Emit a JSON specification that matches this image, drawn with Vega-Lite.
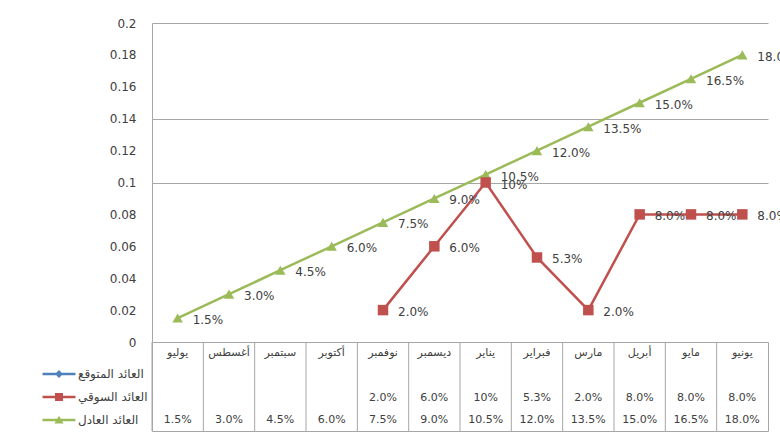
{
  "$schema": "https://vega.github.io/schema/vega-lite/v6.json",
  "padding": {"left": 51, "top": 17, "right": 0, "bottom": 0},
  "spacing": 0,
  "bounds": "flush",
  "resolve": {"scale": {"color": "independent", "shape": "independent"}, "legend": {"color": "independent", "shape": "independent"}},
  "datasets": {
    "months": [
      {"month": "يوليو"}, {"month": "أغسطس"}, {"month": "سبتمبر"}, {"month": "أكتوبر"},
      {"month": "نوفمبر"}, {"month": "ديسمبر"}, {"month": "يناير"}, {"month": "فبراير"},
      {"month": "مارس"}, {"month": "أبريل"}, {"month": "مايو"}, {"month": "يونيو"}
    ],
    "series": [
      {"month": "يوليو", "series": "العائد العادل", "value": 0.015, "label": "1.5%"},
      {"month": "أغسطس", "series": "العائد العادل", "value": 0.03, "label": "3.0%"},
      {"month": "سبتمبر", "series": "العائد العادل", "value": 0.045, "label": "4.5%"},
      {"month": "أكتوبر", "series": "العائد العادل", "value": 0.06, "label": "6.0%"},
      {"month": "نوفمبر", "series": "العائد العادل", "value": 0.075, "label": "7.5%"},
      {"month": "ديسمبر", "series": "العائد العادل", "value": 0.09, "label": "9.0%"},
      {"month": "يناير", "series": "العائد العادل", "value": 0.105, "label": "10.5%"},
      {"month": "فبراير", "series": "العائد العادل", "value": 0.12, "label": "12.0%"},
      {"month": "مارس", "series": "العائد العادل", "value": 0.135, "label": "13.5%"},
      {"month": "أبريل", "series": "العائد العادل", "value": 0.15, "label": "15.0%"},
      {"month": "مايو", "series": "العائد العادل", "value": 0.165, "label": "16.5%"},
      {"month": "يونيو", "series": "العائد العادل", "value": 0.18, "label": "18.0%"},
      {"month": "نوفمبر", "series": "العائد السوقي", "value": 0.02, "label": "2.0%"},
      {"month": "ديسمبر", "series": "العائد السوقي", "value": 0.06, "label": "6.0%"},
      {"month": "يناير", "series": "العائد السوقي", "value": 0.1, "label": "10%"},
      {"month": "فبراير", "series": "العائد السوقي", "value": 0.053, "label": "5.3%"},
      {"month": "مارس", "series": "العائد السوقي", "value": 0.02, "label": "2.0%"},
      {"month": "أبريل", "series": "العائد السوقي", "value": 0.08, "label": "8.0%"},
      {"month": "مايو", "series": "العائد السوقي", "value": 0.08, "label": "8.0%"},
      {"month": "يونيو", "series": "العائد السوقي", "value": 0.08, "label": "8.0%"}
    ]
  },
  "vconcat": [
    {
      "width": 616,
      "height": 319,
      "view": {"stroke": null},
      "data": {"name": "series"},
      "encoding": {
        "x": {
          "field": "month", "type": "nominal",
          "scale": {"type": "point", "padding": 0.5, "domain": ["يوليو", "أغسطس", "سبتمبر", "أكتوبر", "نوفمبر", "ديسمبر", "يناير", "فبراير", "مارس", "أبريل", "مايو", "يونيو"]},
          "axis": null
        },
        "y": {
          "field": "value", "type": "quantitative",
          "scale": {"domain": [0, 0.2], "nice": false},
          "axis": {
            "title": null, "ticks": false, "tickCount": 10, "format": ".2~f",
            "labelPadding": 16, "labelFontSize": 12, "labelColor": "#404040", "labelFont": "DejaVu Sans",
            "domain": true, "domainColor": "#a6a6a6",
            "grid": true,
            "gridColor": {"condition": {"test": "abs(datum.value-0.1)<1e-6 || abs(datum.value-0.14)<1e-6 || abs(datum.value-0.2)<1e-6", "value": "#a6a6a6"}, "value": "transparent"}
          }
        }
      },
      "layer": [
        {
          "mark": {"type": "line", "strokeWidth": 2.5},
          "encoding": {
            "order": {"value": null},
            "color": {"field": "series", "type": "nominal", "legend": null,
              "scale": {"domain": ["العائد المتوقع", "العائد السوقي", "العائد العادل"], "range": ["#4f81bd", "#c0504d", "#9bbb59"]}}
          }
        },
        {
          "mark": {"type": "point", "filled": true, "opacity": 1, "size": 110},
          "encoding": {
            "color": {"field": "series", "type": "nominal", "legend": null,
              "scale": {"domain": ["العائد المتوقع", "العائد السوقي", "العائد العادل"], "range": ["#4f81bd", "#c0504d", "#9bbb59"]}},
            "shape": {"field": "series", "type": "nominal", "legend": null,
              "scale": {"domain": ["العائد المتوقع", "العائد السوقي", "العائد العادل"], "range": ["diamond", "square", "triangle-up"]}}
          }
        },
        {
          "mark": {"type": "text", "align": "left", "baseline": "middle", "dx": 15, "dy": 2, "fontSize": 12, "font": "DejaVu Sans", "color": "#404040"},
          "encoding": {"text": {"field": "label"}}
        }
      ]
    },
    {
      "width": 616,
      "height": 89,
      "view": {"stroke": "#a6a6a6"},
      "layer": [
        {
          "data": {"name": "months"},
          "mark": {"type": "rule", "color": "#a6a6a6", "strokeWidth": 1},
          "encoding": {
            "x": {"field": "month", "type": "nominal", "bandPosition": 0,
              "scale": {"type": "band", "paddingInner": 0, "paddingOuter": 0, "domain": ["يوليو", "أغسطس", "سبتمبر", "أكتوبر", "نوفمبر", "ديسمبر", "يناير", "فبراير", "مارس", "أبريل", "مايو", "يونيو"]},
              "axis": null}
          }
        },
        {
          "data": {"name": "months"},
          "mark": {"type": "text", "align": "center", "baseline": "middle", "fontSize": 11, "font": "DejaVu Sans", "color": "#404040"},
          "encoding": {
            "x": {"field": "month", "type": "nominal", "axis": null,
              "scale": {"type": "band", "paddingInner": 0, "paddingOuter": 0, "domain": ["يوليو", "أغسطس", "سبتمبر", "أكتوبر", "نوفمبر", "ديسمبر", "يناير", "فبراير", "مارس", "أبريل", "مايو", "يونيو"]}},
            "y": {"datum": "header", "type": "nominal", "axis": null,
              "scale": {"type": "band", "paddingInner": 0, "paddingOuter": 0, "domain": ["header", "العائد المتوقع", "العائد السوقي", "العائد العادل"]}},
            "text": {"field": "month"}
          }
        },
        {
          "data": {"name": "series"},
          "mark": {"type": "text", "align": "center", "baseline": "middle", "fontSize": 11, "font": "DejaVu Sans", "color": "#404040"},
          "encoding": {
            "x": {"field": "month", "type": "nominal", "axis": null,
              "scale": {"type": "band", "paddingInner": 0, "paddingOuter": 0, "domain": ["يوليو", "أغسطس", "سبتمبر", "أكتوبر", "نوفمبر", "ديسمبر", "يناير", "فبراير", "مارس", "أبريل", "مايو", "يونيو"]}},
            "y": {"field": "series", "type": "nominal", "axis": null,
              "scale": {"type": "band", "paddingInner": 0, "paddingOuter": 0, "domain": ["header", "العائد المتوقع", "العائد السوقي", "العائد العادل"]}},
            "text": {"field": "label"}
          }
        },
        {
          "data": {"name": "series"},
          "transform": [{"filter": "datum.value < 0"}],
          "mark": {"type": "point", "filled": true},
          "encoding": {
            "x": {"field": "month", "type": "nominal", "axis": null,
              "scale": {"type": "band", "paddingInner": 0, "paddingOuter": 0, "domain": ["يوليو", "أغسطس", "سبتمبر", "أكتوبر", "نوفمبر", "ديسمبر", "يناير", "فبراير", "مارس", "أبريل", "مايو", "يونيو"]}},
            "y": {"field": "series", "type": "nominal", "axis": null,
              "scale": {"type": "band", "paddingInner": 0, "paddingOuter": 0, "domain": ["header", "العائد المتوقع", "العائد السوقي", "العائد العادل"]}},
            "color": {"field": "series", "type": "nominal",
              "scale": {"domain": ["العائد المتوقع", "العائد السوقي", "العائد العادل"], "range": ["#4f81bd", "#c0504d", "#9bbb59"]},
              "legend": {"orient": "none", "legendX": -100, "legendY": 25, "title": null, "symbolSize": 196, "symbolStrokeWidth": 0, "symbolOpacity": 1, "labelFont": "DejaVu Sans", "labelFontSize": 12, "labelColor": "#404040", "labelOffset": 12, "rowPadding": 10, "padding": 0}},
            "shape": {"field": "series", "type": "nominal",
              "scale": {"domain": ["العائد المتوقع", "العائد السوقي", "العائد العادل"], "range": ["M-2.35,-0.18H2.35V0.18H-2.35Z M0,-0.57L0.57,0L0,0.57L-0.57,0Z", "M-2.35,-0.18H2.35V0.18H-2.35Z M-0.57,-0.57H0.57V0.57H-0.57Z", "M-2.35,-0.18H2.35V0.18H-2.35Z M0,-0.6L0.65,0.5H-0.65Z"]},
              "legend": {"orient": "none", "legendX": -100, "legendY": 25, "title": null, "symbolSize": 196, "symbolStrokeWidth": 0, "symbolOpacity": 1, "labelFont": "DejaVu Sans", "labelFontSize": 12, "labelColor": "#404040", "labelOffset": 12, "rowPadding": 10, "padding": 0}}
          }
        }
      ]
    }
  ],
  "config": {
    "font": "DejaVu Sans",
    "background": "white"
  }
}
